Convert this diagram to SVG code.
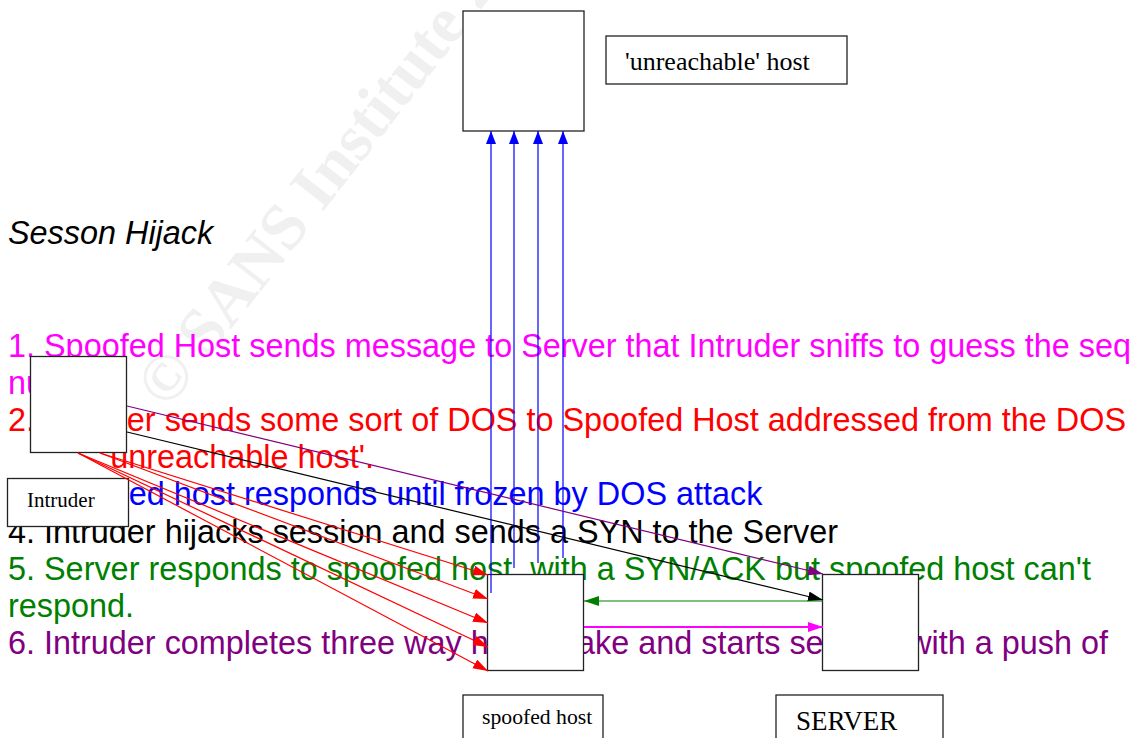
<svg xmlns="http://www.w3.org/2000/svg" width="1131" height="738" viewBox="0 0 1131 738">
<style>
.wm{font-family:"Liberation Serif",serif;font-weight:bold;font-size:66px;fill:#f0f0f0}
.t{font-family:"Liberation Sans",Arial,sans-serif;font-size:32.4px}
.lbl{font-family:"Liberation Serif","Times New Roman",serif;fill:#000}
.box{fill:#fff;stroke:#222;stroke-width:1.3}
.c{fill:none;stroke-width:1.2}
</style>
<defs>
<marker id="ar" markerUnits="userSpaceOnUse" markerWidth="16" markerHeight="12" refX="15" refY="5" orient="auto"><path d="M0,0L15,5L0,10z" fill="#ff0000"/></marker>
<marker id="ab" markerUnits="userSpaceOnUse" markerWidth="16" markerHeight="12" refX="13" refY="5" orient="auto"><path d="M0,0L13,5L0,10z" fill="#0000ff"/></marker>
<marker id="ak" markerUnits="userSpaceOnUse" markerWidth="16" markerHeight="12" refX="15" refY="5" orient="auto"><path d="M0,0L15,5L0,10z" fill="#000"/></marker>
<marker id="ap" markerUnits="userSpaceOnUse" markerWidth="16" markerHeight="12" refX="15" refY="5" orient="auto"><path d="M0,0L15,5L0,10z" fill="#800080"/></marker>
<marker id="ag" markerUnits="userSpaceOnUse" markerWidth="16" markerHeight="12" refX="15" refY="5" orient="auto"><path d="M0,0L15,5L0,10z" fill="#008000"/></marker>
<marker id="am" markerUnits="userSpaceOnUse" markerWidth="16" markerHeight="12" refX="15" refY="5" orient="auto"><path d="M0,0L15,5L0,10z" fill="#ff00ff"/></marker>
</defs>
<rect width="1131" height="738" fill="#fff"/>
<g id="watermark"><text class="wm" transform="translate(167.5,410.5) rotate(-52)">© SANS Institute 2000 - 2002</text></g>
<g id="texts" class="t">
<text x="8" y="244" font-style="italic" fill="#000">Sesson Hijack</text>
<text x="8" y="357" fill="#ff00ff">1. Spoofed Host sends message to Server that Intruder sniffs to guess the seq</text>
<text x="8" y="394" fill="#ff00ff">nu</text>
<text x="8" y="431" fill="#ff0000">2. Intruder sends some sort of DOS to Spoofed Host addressed from the DOS</text>
<text x="104" y="468" fill="#ff0000">'unreachable host'.</text>
<text x="8" y="505" fill="#0000ff">3. Spoofed host responds until frozen by DOS attack</text>
<text x="8" y="543" fill="#000">4. Intruder hijacks session and sends a SYN to the Server</text>
<text x="8" y="580" fill="#008000" xml:space="preserve">5. Server responds to spoofed host  with a SYN/ACK but spoofed host can't</text>
<text x="8" y="617" fill="#008000">respond.</text>
<text x="8" y="654" fill="#800080">6. Intruder completes three way handshake and starts session with a push of</text>
</g>
<g id="unreachable">
<rect class="box" x="463" y="11" width="121" height="120"/>
<rect class="box" x="606" y="36" width="241" height="48"/>
<text class="lbl" x="625" y="70" font-size="26">'unreachable' host</text>
</g>
<g id="intruder">
<rect class="box" x="30.5" y="356.5" width="96" height="96"/>
<rect class="box" x="7.5" y="478.5" width="121" height="48"/>
<text class="lbl" x="27" y="507" font-size="21">Intruder</text>
</g>
<g id="spoofed">
<rect class="box" x="487.5" y="574.5" width="96" height="96"/>
<rect class="box" x="463" y="695" width="140" height="60"/>
<text class="lbl" x="482" y="724" font-size="21.7">spoofed host</text>
</g>
<g id="server">
<rect class="box" x="822.5" y="574.5" width="96" height="96"/>
<rect class="box" x="776" y="695" width="167" height="60"/>
<text class="lbl" x="796" y="730" font-size="27">SERVER</text>
</g>
<g id="connectors" class="c">
<line x1="78" y1="453" x2="488" y2="671" stroke="#ff0000" marker-end="url(#ar)"/>
<line x1="78" y1="453" x2="488" y2="647" stroke="#ff0000" marker-end="url(#ar)"/>
<line x1="78" y1="453" x2="488" y2="623" stroke="#ff0000" marker-end="url(#ar)"/>
<line x1="100" y1="453" x2="488" y2="599" stroke="#ff0000" marker-end="url(#ar)"/>
<line x1="100" y1="453" x2="488" y2="575" stroke="#ff0000" marker-end="url(#ar)"/>
<line x1="491" y1="593" x2="491" y2="131" stroke="#0000ff" marker-end="url(#ab)"/>
<line x1="514" y1="568" x2="514" y2="131" stroke="#0000ff" marker-end="url(#ab)"/>
<line x1="538" y1="563" x2="538" y2="131" stroke="#0000ff" marker-end="url(#ab)"/>
<line x1="563" y1="558" x2="563" y2="131" stroke="#0000ff" marker-end="url(#ab)"/>
<line x1="127" y1="432" x2="823" y2="600" stroke="#000" marker-end="url(#ak)"/>
<line x1="127" y1="406" x2="823" y2="574" stroke="#800080" marker-end="url(#ap)"/>
<line x1="823" y1="601" x2="584" y2="601" stroke="#008000" marker-end="url(#ag)"/>
<line x1="584" y1="627" x2="823" y2="627" stroke="#ff00ff" stroke-width="2" marker-end="url(#am)"/>
</g>
</svg>
